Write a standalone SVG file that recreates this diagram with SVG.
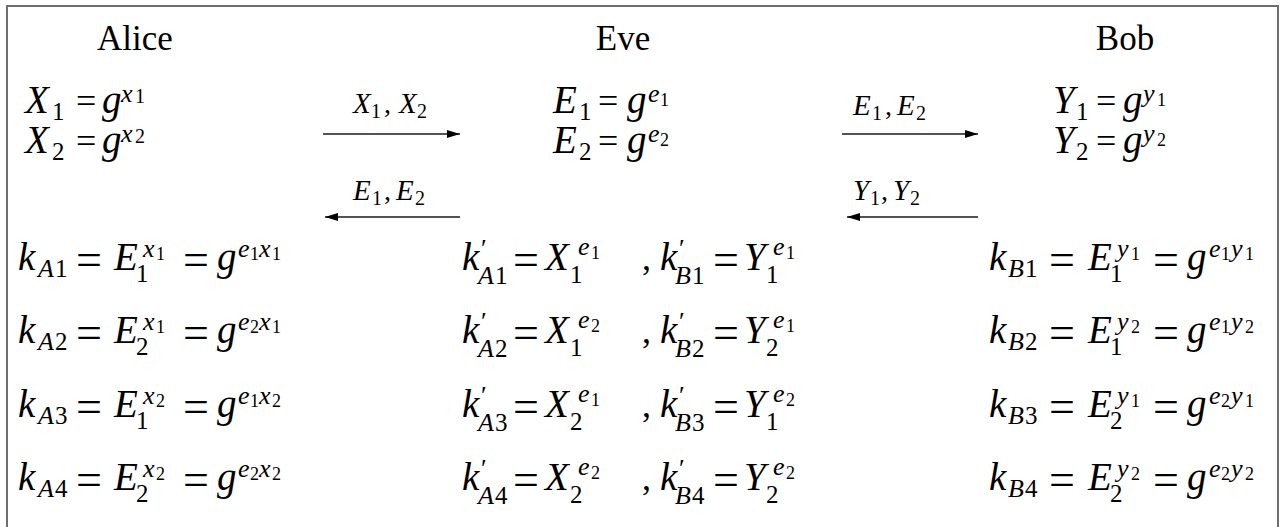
<svg xmlns="http://www.w3.org/2000/svg" width="1282" height="527" viewBox="0 0 1282 527" font-family="'Liberation Serif', serif">
<style>
text{font-family:'Liberation Serif',serif;font-style:normal;fill:#000}
.I{font-size:39px;font-style:italic}
.IS{font-size:26px}
.IA{font-size:29px;font-style:italic}
.R{font-size:36px}
.S{font-size:25px}
.SS{font-size:18px}
.q{font-size:46px}
.P{font-size:35px}
.A{font-size:28px}
.As{font-size:20px}
.pr{font-size:26px}
.c{stroke:#1a1a1a;stroke-width:1.3;fill:none}
.frame{fill:none;stroke:#6e6e6e;stroke-width:2}
</style>
<defs>
<marker id="ah" markerUnits="userSpaceOnUse" markerWidth="14" markerHeight="10" refX="13" refY="4" orient="auto">
<path d="M0,0 L13,4 L0,8 z" fill="#000"/>
</marker>
</defs>
<rect width="1282" height="527" fill="#fff"/>
<path class="frame" d="M7,527 V6 H1278 V527"/>

<g id="alice">
<text class="P" x="135" y="50" text-anchor="middle">Alice</text>
<g>
<text class="I"><tspan x="25" y="113">X</tspan><tspan x="102" y="113">g</tspan><tspan class="IS" x="121" y="102">x</tspan></text>
<text class="R"><tspan class="S" x="52" y="120">1</tspan><tspan x="76" y="113">=</tspan><tspan class="As" x="135" y="103">1</tspan></text>
</g>
<g transform="translate(0,40)">
<text class="I"><tspan x="25" y="113">X</tspan><tspan x="102" y="113">g</tspan><tspan class="IS" x="121" y="102">x</tspan></text>
<text class="R"><tspan class="S" x="52" y="120">2</tspan><tspan x="76" y="113">=</tspan><tspan class="As" x="135" y="103">2</tspan></text>
</g>
</g>
<g id="alice-keys">
<g>
<text class="I"><tspan x="18" y="270">k</tspan><tspan class="IS" x="38" y="277">A</tspan><tspan x="114" y="270">E</tspan><tspan class="IS" x="143" y="257">x</tspan><tspan x="217" y="270">g</tspan><tspan class="IS" x="238" y="257">e</tspan><tspan class="IS" x="259" y="257">x</tspan></text>
<text class="R"><tspan class="S" x="55" y="277">1</tspan><tspan class="q" x="76" y="275">=</tspan><tspan class="S" x="136" y="282">1</tspan><tspan class="SS" x="156" y="260">1</tspan><tspan class="q" x="183" y="275">=</tspan><tspan class="SS" x="250" y="260">1</tspan><tspan class="SS" x="272" y="260">1</tspan></text>
</g>
<g transform="translate(0,73)">
<text class="I"><tspan x="18" y="270">k</tspan><tspan class="IS" x="38" y="277">A</tspan><tspan x="114" y="270">E</tspan><tspan class="IS" x="143" y="257">x</tspan><tspan x="217" y="270">g</tspan><tspan class="IS" x="238" y="257">e</tspan><tspan class="IS" x="259" y="257">x</tspan></text>
<text class="R"><tspan class="S" x="55" y="277">2</tspan><tspan class="q" x="76" y="275">=</tspan><tspan class="S" x="136" y="282">2</tspan><tspan class="SS" x="156" y="260">1</tspan><tspan class="q" x="183" y="275">=</tspan><tspan class="SS" x="250" y="260">2</tspan><tspan class="SS" x="272" y="260">1</tspan></text>
</g>
<g transform="translate(0,147)">
<text class="I"><tspan x="18" y="270">k</tspan><tspan class="IS" x="38" y="277">A</tspan><tspan x="114" y="270">E</tspan><tspan class="IS" x="143" y="257">x</tspan><tspan x="217" y="270">g</tspan><tspan class="IS" x="238" y="257">e</tspan><tspan class="IS" x="259" y="257">x</tspan></text>
<text class="R"><tspan class="S" x="55" y="277">3</tspan><tspan class="q" x="76" y="275">=</tspan><tspan class="S" x="136" y="282">1</tspan><tspan class="SS" x="156" y="260">2</tspan><tspan class="q" x="183" y="275">=</tspan><tspan class="SS" x="250" y="260">1</tspan><tspan class="SS" x="272" y="260">2</tspan></text>
</g>
<g transform="translate(0,220)">
<text class="I"><tspan x="18" y="270">k</tspan><tspan class="IS" x="38" y="277">A</tspan><tspan x="114" y="270">E</tspan><tspan class="IS" x="143" y="257">x</tspan><tspan x="217" y="270">g</tspan><tspan class="IS" x="238" y="257">e</tspan><tspan class="IS" x="259" y="257">x</tspan></text>
<text class="R"><tspan class="S" x="55" y="277">4</tspan><tspan class="q" x="76" y="275">=</tspan><tspan class="S" x="136" y="282">2</tspan><tspan class="SS" x="156" y="260">2</tspan><tspan class="q" x="183" y="275">=</tspan><tspan class="SS" x="250" y="260">2</tspan><tspan class="SS" x="272" y="260">2</tspan></text>
</g>
</g>

<g id="eve">
<text class="P" x="623" y="50" text-anchor="middle">Eve</text>
<g>
<text class="I"><tspan x="553" y="113">E</tspan><tspan x="627" y="113">g</tspan><tspan class="IS" x="648" y="102">e</tspan></text>
<text class="R"><tspan class="S" x="579" y="120">1</tspan><tspan x="598" y="113">=</tspan><tspan class="SS" x="660" y="106">1</tspan></text>
</g>
<g transform="translate(0,40)">
<text class="I"><tspan x="553" y="113">E</tspan><tspan x="627" y="113">g</tspan><tspan class="IS" x="648" y="102">e</tspan></text>
<text class="R"><tspan class="S" x="579" y="120">2</tspan><tspan x="598" y="113">=</tspan><tspan class="SS" x="660" y="106">2</tspan></text>
</g>
</g>
<g id="eve-keys">
<g>
<text class="I"><tspan x="462" y="270">k</tspan><tspan class="IS" x="478" y="284">A</tspan><tspan x="545" y="270">X</tspan><tspan class="IS" x="578" y="255">e</tspan><tspan x="660" y="270">k</tspan><tspan class="IS" x="675" y="284">B</tspan><tspan x="744" y="270">Y</tspan><tspan class="IS" x="773" y="255">e</tspan></text>
<text class="R"><tspan class="pr" x="481" y="257">′</tspan><tspan class="S" x="495" y="284">1</tspan><tspan class="q" x="513" y="275">=</tspan><tspan class="S" x="570" y="283">1</tspan><tspan class="SS" x="591" y="259">1</tspan><tspan x="642" y="270">,</tspan><tspan class="pr" x="679" y="257">′</tspan><tspan class="S" x="692" y="284">1</tspan><tspan class="q" x="713" y="275">=</tspan><tspan class="S" x="766" y="283">1</tspan><tspan class="SS" x="786" y="259">1</tspan></text>
</g>
<g transform="translate(0,73)">
<text class="I"><tspan x="462" y="270">k</tspan><tspan class="IS" x="478" y="284">A</tspan><tspan x="545" y="270">X</tspan><tspan class="IS" x="578" y="255">e</tspan><tspan x="660" y="270">k</tspan><tspan class="IS" x="675" y="284">B</tspan><tspan x="744" y="270">Y</tspan><tspan class="IS" x="773" y="255">e</tspan></text>
<text class="R"><tspan class="pr" x="481" y="257">′</tspan><tspan class="S" x="495" y="284">2</tspan><tspan class="q" x="513" y="275">=</tspan><tspan class="S" x="570" y="283">1</tspan><tspan class="SS" x="591" y="259">2</tspan><tspan x="642" y="270">,</tspan><tspan class="pr" x="679" y="257">′</tspan><tspan class="S" x="692" y="284">2</tspan><tspan class="q" x="713" y="275">=</tspan><tspan class="S" x="766" y="283">2</tspan><tspan class="SS" x="786" y="259">1</tspan></text>
</g>
<g transform="translate(0,147)">
<text class="I"><tspan x="462" y="270">k</tspan><tspan class="IS" x="478" y="284">A</tspan><tspan x="545" y="270">X</tspan><tspan class="IS" x="578" y="255">e</tspan><tspan x="660" y="270">k</tspan><tspan class="IS" x="675" y="284">B</tspan><tspan x="744" y="270">Y</tspan><tspan class="IS" x="773" y="255">e</tspan></text>
<text class="R"><tspan class="pr" x="481" y="257">′</tspan><tspan class="S" x="495" y="284">3</tspan><tspan class="q" x="513" y="275">=</tspan><tspan class="S" x="570" y="283">2</tspan><tspan class="SS" x="591" y="259">1</tspan><tspan x="642" y="270">,</tspan><tspan class="pr" x="679" y="257">′</tspan><tspan class="S" x="692" y="284">3</tspan><tspan class="q" x="713" y="275">=</tspan><tspan class="S" x="766" y="283">1</tspan><tspan class="SS" x="786" y="259">2</tspan></text>
</g>
<g transform="translate(0,220)">
<text class="I"><tspan x="462" y="270">k</tspan><tspan class="IS" x="478" y="284">A</tspan><tspan x="545" y="270">X</tspan><tspan class="IS" x="578" y="255">e</tspan><tspan x="660" y="270">k</tspan><tspan class="IS" x="675" y="284">B</tspan><tspan x="744" y="270">Y</tspan><tspan class="IS" x="773" y="255">e</tspan></text>
<text class="R"><tspan class="pr" x="481" y="257">′</tspan><tspan class="S" x="495" y="284">4</tspan><tspan class="q" x="513" y="275">=</tspan><tspan class="S" x="570" y="283">2</tspan><tspan class="SS" x="591" y="259">2</tspan><tspan x="642" y="270">,</tspan><tspan class="pr" x="679" y="257">′</tspan><tspan class="S" x="692" y="284">4</tspan><tspan class="q" x="713" y="275">=</tspan><tspan class="S" x="766" y="283">2</tspan><tspan class="SS" x="786" y="259">2</tspan></text>
</g>
</g>

<g id="bob">
<text class="P" x="1125" y="50" text-anchor="middle">Bob</text>
<g>
<text class="I"><tspan x="1053" y="113">Y</tspan><tspan x="1123" y="113">g</tspan><tspan class="IS" x="1143" y="102">y</tspan></text>
<text class="R"><tspan class="S" x="1076" y="120">1</tspan><tspan x="1096" y="113">=</tspan><tspan class="SS" x="1157" y="106">1</tspan></text>
</g>
<g transform="translate(0,40)">
<text class="I"><tspan x="1053" y="113">Y</tspan><tspan x="1123" y="113">g</tspan><tspan class="IS" x="1143" y="102">y</tspan></text>
<text class="R"><tspan class="S" x="1076" y="120">2</tspan><tspan x="1096" y="113">=</tspan><tspan class="SS" x="1157" y="106">2</tspan></text>
</g>
</g>
<g id="bob-keys">
<g>
<text class="I"><tspan x="989" y="270">k</tspan><tspan class="IS" x="1008" y="277">B</tspan><tspan x="1088" y="270">E</tspan><tspan class="IS" x="1117" y="257">y</tspan><tspan x="1187" y="270">g</tspan><tspan class="IS" x="1209" y="257">e</tspan><tspan class="IS" x="1231" y="257">y</tspan></text>
<text class="R"><tspan class="S" x="1025" y="277">1</tspan><tspan class="q" x="1049" y="275">=</tspan><tspan class="S" x="1110" y="282">1</tspan><tspan class="SS" x="1131" y="260">1</tspan><tspan class="q" x="1153" y="275">=</tspan><tspan class="SS" x="1221" y="260">1</tspan><tspan class="SS" x="1245" y="260">1</tspan></text>
</g>
<g transform="translate(0,73)">
<text class="I"><tspan x="989" y="270">k</tspan><tspan class="IS" x="1008" y="277">B</tspan><tspan x="1088" y="270">E</tspan><tspan class="IS" x="1117" y="257">y</tspan><tspan x="1187" y="270">g</tspan><tspan class="IS" x="1209" y="257">e</tspan><tspan class="IS" x="1231" y="257">y</tspan></text>
<text class="R"><tspan class="S" x="1025" y="277">2</tspan><tspan class="q" x="1049" y="275">=</tspan><tspan class="S" x="1110" y="282">1</tspan><tspan class="SS" x="1131" y="260">2</tspan><tspan class="q" x="1153" y="275">=</tspan><tspan class="SS" x="1221" y="260">1</tspan><tspan class="SS" x="1245" y="260">2</tspan></text>
</g>
<g transform="translate(0,147)">
<text class="I"><tspan x="989" y="270">k</tspan><tspan class="IS" x="1008" y="277">B</tspan><tspan x="1088" y="270">E</tspan><tspan class="IS" x="1117" y="257">y</tspan><tspan x="1187" y="270">g</tspan><tspan class="IS" x="1209" y="257">e</tspan><tspan class="IS" x="1231" y="257">y</tspan></text>
<text class="R"><tspan class="S" x="1025" y="277">3</tspan><tspan class="q" x="1049" y="275">=</tspan><tspan class="S" x="1110" y="282">2</tspan><tspan class="SS" x="1131" y="260">1</tspan><tspan class="q" x="1153" y="275">=</tspan><tspan class="SS" x="1221" y="260">2</tspan><tspan class="SS" x="1245" y="260">1</tspan></text>
</g>
<g transform="translate(0,220)">
<text class="I"><tspan x="989" y="270">k</tspan><tspan class="IS" x="1008" y="277">B</tspan><tspan x="1088" y="270">E</tspan><tspan class="IS" x="1117" y="257">y</tspan><tspan x="1187" y="270">g</tspan><tspan class="IS" x="1209" y="257">e</tspan><tspan class="IS" x="1231" y="257">y</tspan></text>
<text class="R"><tspan class="S" x="1025" y="277">4</tspan><tspan class="q" x="1049" y="275">=</tspan><tspan class="S" x="1110" y="282">2</tspan><tspan class="SS" x="1131" y="260">2</tspan><tspan class="q" x="1153" y="275">=</tspan><tspan class="SS" x="1221" y="260">2</tspan><tspan class="SS" x="1245" y="260">2</tspan></text>
</g>
</g>

<g id="connectors">
<line class="c" x1="323" y1="134" x2="460" y2="134" marker-end="url(#ah)"/>
<line class="c" x1="460" y1="217" x2="325" y2="217" marker-end="url(#ah)"/>
<line class="c" x1="842" y1="134" x2="978" y2="134" marker-end="url(#ah)"/>
<line class="c" x1="978" y1="217" x2="847" y2="217" marker-end="url(#ah)"/>
<text class="IA"><tspan x="353" y="113">X</tspan><tspan x="399" y="113">X</tspan></text>
<text class="A"><tspan class="As" x="371" y="118">1</tspan><tspan x="384" y="113">,</tspan><tspan class="As" x="417" y="118">2</tspan></text>
<text class="IA"><tspan x="353" y="200">E</tspan><tspan x="396" y="200">E</tspan></text>
<text class="A"><tspan class="As" x="372" y="205">1</tspan><tspan x="384" y="200">,</tspan><tspan class="As" x="415" y="205">2</tspan></text>
<text class="IA"><tspan x="853" y="115">E</tspan><tspan x="897" y="115">E</tspan></text>
<text class="A"><tspan class="As" x="872" y="120">1</tspan><tspan x="885" y="115">,</tspan><tspan class="As" x="916" y="120">2</tspan></text>
<text class="IA"><tspan x="853" y="200">Y</tspan><tspan x="893" y="200">Y</tspan></text>
<text class="A"><tspan class="As" x="870" y="205">1</tspan><tspan x="881" y="200">,</tspan><tspan class="As" x="910" y="205">2</tspan></text>
</g>
</svg>
